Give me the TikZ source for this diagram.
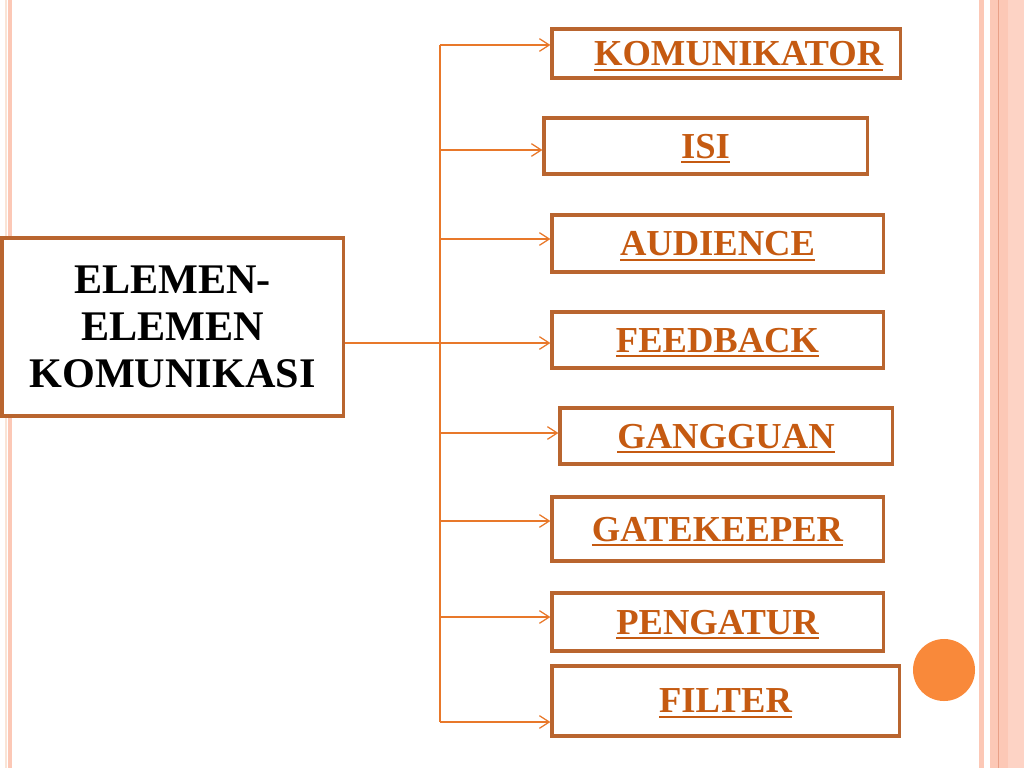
\documentclass[tikz,border=0pt]{standalone}
\usepackage{fontspec}
\setmainfont{Liberation Serif}
\usepackage{tikz}
\usetikzlibrary{arrows.meta, positioning}

\newcommand{\ulbl}[1]{\setbox0\hbox{#1}\rlap{\rule[-3.6pt]{\wd0}{1.4pt}}\box0}

\definecolor{boxline}{RGB}{185,101,47}
\definecolor{labelor}{RGB}{197,90,17}
\definecolor{connor}{RGB}{232,120,42}
\definecolor{stripe}{RGB}{252,200,182}
\definecolor{stripedk}{RGB}{233,160,135}
\definecolor{stripelt}{RGB}{250,228,214}
\definecolor{dotor}{RGB}{249,137,58}

\begin{document}
\begin{tikzpicture}[
    x=0.025cm, y=-0.025cm,
    >={Straight Barb[length=7pt, width=9pt]},
    elbox/.style={draw=boxline, line width=2.2pt, inner sep=0pt, text depth=0pt,
                  font=\fontsize{26}{30}\selectfont\bfseries, text=labelor},
    conn/.style={draw=connor, line width=0.9pt}
  ]
  \useasboundingbox (0,0) rectangle (1024,768);

  % page stripes
  \fill[stripelt] (5,0) rectangle (6.5,768);
  \fill[stripe] (8,0) rectangle (12,768);
  \fill[stripe] (979,0) rectangle (984,768);
  \fill[stripe] (990,0) rectangle (1024,768);
  \fill[stripe!80!white] (1008,0) rectangle (1024,768);
  \draw[stripedk, line width=0.6pt] (998,0) -- (998,768);
  \fill[dotor] (944,670) circle[radius=0.775cm];

  % main box
  \node[draw=boxline, line width=2.2pt, minimum width=8.525cm,
        minimum height=4.45cm, align=center, fill=white,
        font=\fontsize{30}{33.4}\selectfont\bfseries] (main) at (172.5,327)
    {ELEMEN-\\ELEMEN\\KOMUNIKASI};

  % elements
  \node[elbox, minimum width=8.7cm, minimum height=1.225cm] (kom) at (726,53.5)
    {\hspace*{18pt}\ulbl{KOMUNIKATOR}};
  \node[elbox, minimum width=8.075cm, minimum height=1.4cm] (isi) at (705.5,146)
    {\ulbl{ISI}};
  \node[elbox, minimum width=8.275cm, minimum height=1.425cm] (aud) at (717.5,243.5)
    {\ulbl{AUDIENCE}};
  \node[elbox, minimum width=8.275cm, minimum height=1.4cm] (feed) at (717.5,340)
    {\ulbl{FEEDBACK}};
  \node[elbox, minimum width=8.3cm, minimum height=1.4cm] (gang) at (726,436)
    {\ulbl{GANGGUAN}};
  \node[elbox, minimum width=8.275cm, minimum height=1.6cm] (gate) at (717.5,529)
    {\ulbl{GATEKEEPER}};
  \node[elbox, minimum width=8.275cm, minimum height=1.45cm] (peng) at (717.5,622)
    {\ulbl{PENGATUR}};
  \node[elbox, minimum width=8.675cm, minimum height=1.75cm] (filt) at (725.5,701)
    {\ulbl{FILTER}};

  % connectors
  \coordinate (hub) at (440,343);
  \coordinate (top) at (440,45);
  \coordinate (bot) at (440,722);
  \draw[conn] (hub -| main.east) -- (hub);
  \draw[conn] (top) -- (bot);
  \draw[conn, ->] (top) -- (top -| kom.west);
  \draw[conn, ->] (bot) -- (bot -| filt.west);
  \foreach \n/\y in {isi/150, aud/239, feed/343, gang/433, gate/521, peng/617} {
    \coordinate (j) at (440,\y);
    \draw[conn, ->] (j) -- (j -| \n.west);
  }
\end{tikzpicture}
\end{document}
